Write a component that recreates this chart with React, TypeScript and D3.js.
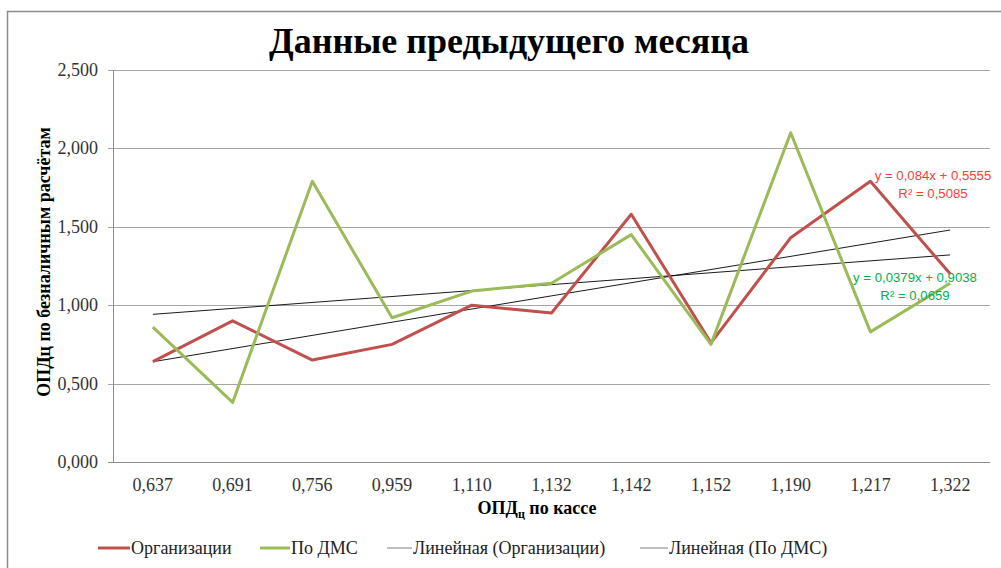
import React, { useEffect, useRef } from 'react';
import * as d3 from 'd3';

const categories = ['0,637', '0,691', '0,756', '0,959', '1,110', '1,132', '1,142', '1,152', '1,190', '1,217', '1,322'];
const orgValues = [0.64, 0.9, 0.65, 0.75, 1.0, 0.95, 1.58, 0.76, 1.43, 1.79, 1.2];
const dmsValues = [0.86, 0.38, 1.79, 0.92, 1.09, 1.14, 1.45, 0.75, 2.1, 0.83, 1.14];
// trend line coefficients as shown on the chart (x = point index 1..11)
const orgTrend = { slope: 0.084, intercept: 0.5555, label: 'y = 0,084x + 0,5555', r2: 'R² = 0,5085' };
const dmsTrend = { slope: 0.0379, intercept: 0.9038, label: 'y = 0,0379x + 0,9038', r2: 'R² = 0,0659' };
const yTicks = [0, 0.5, 1, 1.5, 2, 2.5];

const RED = '#c0504d';
const GREEN = '#9bbb59';
const SERIF = 'Liberation Serif, DejaVu Serif, serif';

function App() {
  const svgRef = useRef<SVGSVGElement>(null);

  useEffect(() => {
    const width = 1001;
    const height = 568;
    const plot = { left: 113, right: 990, top: 70, bottom: 462 };

    const svg = d3.select(svgRef.current).attr('width', width).attr('height', height);
    svg.selectAll('*').remove();

    // chart frame
    svg
      .append('rect')
      .attr('x', 7.5)
      .attr('y', 11.5)
      .attr('width', 1010)
      .attr('height', 600)
      .attr('fill', '#fff')
      .attr('stroke', '#8c8c8c')
      .attr('stroke-width', 1.5);

    const xScale = d3.scaleBand().domain(categories).range([plot.left, plot.right]);
    const xCenter = (i: number) => (xScale(categories[i]) as number) + xScale.bandwidth() / 2;
    const yScale = d3.scaleLinear().domain([0, 2.5]).range([plot.bottom, plot.top]);
    const fmt = (v: number) => d3.format('.3f')(v).replace('.', ',');

    // gridlines
    svg
      .append('g')
      .selectAll('line')
      .data(yTicks.slice(1))
      .join('line')
      .attr('x1', plot.left - 5)
      .attr('x2', plot.right)
      .attr('y1', (d) => Math.round(yScale(d)) + 0.5)
      .attr('y2', (d) => Math.round(yScale(d)) + 0.5)
      .attr('stroke', '#a6a6a6')
      .attr('stroke-width', 1);

    // axes lines
    svg
      .append('line')
      .attr('x1', plot.left - 5)
      .attr('x2', plot.right)
      .attr('y1', Math.round(yScale(0)) + 0.5)
      .attr('y2', Math.round(yScale(0)) + 0.5)
      .attr('stroke', '#8c8c8c');
    svg
      .append('line')
      .attr('x1', plot.left + 0.5)
      .attr('x2', plot.left + 0.5)
      .attr('y1', plot.top)
      .attr('y2', plot.bottom)
      .attr('stroke', '#8c8c8c');

    // y tick labels
    svg
      .append('g')
      .selectAll('text')
      .data(yTicks)
      .join('text')
      .attr('x', 98)
      .attr('y', (d) => yScale(d) + 6)
      .attr('text-anchor', 'end')
      .attr('font-family', SERIF)
      .attr('font-size', 18)
      .attr('fill', '#333')
      .text((d) => fmt(d));

    // x tick labels
    svg
      .append('g')
      .selectAll('text')
      .data(categories)
      .join('text')
      .attr('x', (_d, i) => xCenter(i))
      .attr('y', 491)
      .attr('text-anchor', 'middle')
      .attr('font-family', SERIF)
      .attr('font-size', 18)
      .attr('fill', '#333')
      .text((d) => d);

    // trend lines
    const trendLine = (t: { slope: number; intercept: number }) => {
      const pts = [0, categories.length - 1].map((i) => [xCenter(i), yScale(t.slope * (i + 1) + t.intercept)] as [number, number]);
      svg
        .append('path')
        .attr('d', d3.line()(pts))
        .attr('stroke', '#000')
        .attr('stroke-width', 0.9)
        .attr('fill', 'none');
    };
    trendLine(orgTrend);
    trendLine(dmsTrend);

    // data lines
    const line = d3
      .line<number>()
      .x((_d, i) => xCenter(i))
      .y((d) => yScale(d));
    svg
      .append('path')
      .attr('d', line(orgValues))
      .attr('fill', 'none')
      .attr('stroke', RED)
      .attr('stroke-width', 3)
      .attr('stroke-linejoin', 'round');
    svg
      .append('path')
      .attr('d', line(dmsValues))
      .attr('fill', 'none')
      .attr('stroke', GREEN)
      .attr('stroke-width', 3)
      .attr('stroke-linejoin', 'round');

    // equations
    const eq = (t: typeof orgTrend, cx: number, cy: number, color: string) => {
      const g = svg
        .append('text')
        .attr('text-anchor', 'middle')
        .attr('font-family', 'Liberation Sans, Arial, sans-serif')
        .attr('font-size', 13.2)
        .attr('fill', color);
      g.append('tspan').attr('x', cx).attr('y', cy).text(t.label);
      g.append('tspan').attr('x', cx).attr('y', cy + 18).text(t.r2);
    };
    eq(orgTrend, 933, 180, '#ff3b3b');
    eq(dmsTrend, 915, 282, '#00b050');

    // title
    svg
      .append('text')
      .attr('x', 509)
      .attr('y', 53)
      .attr('text-anchor', 'middle')
      .attr('font-family', SERIF)
      .attr('font-size', 36)
      .attr('font-weight', 'bold')
      .text('Данные предыдущего месяца');

    // axis titles
    const xTitle = svg
      .append('text')
      .attr('x', 537)
      .attr('y', 514)
      .attr('text-anchor', 'middle')
      .attr('font-family', SERIF)
      .attr('font-size', 18)
      .attr('font-weight', 'bold');
    xTitle.append('tspan').text('ОПД');
    xTitle.append('tspan').attr('dy', 4).attr('font-size', 12).text('ц');
    xTitle.append('tspan').attr('dy', -4).text(' по кассе');

    svg
      .append('text')
      .attr('transform', 'translate(50,262) rotate(-90)')
      .attr('text-anchor', 'middle')
      .attr('font-family', SERIF)
      .attr('font-size', 18)
      .attr('font-weight', 'bold')
      .text('ОПДц по безналичным расчётам');

    // legend
    const legendItems = [
      { label: 'Организации', color: RED, width: 3, x: 98, len: 32 },
      { label: 'По ДМС', color: GREEN, width: 3, x: 260, len: 30 },
      { label: 'Линейная (Организации)', color: '#7f7f7f', width: 1, x: 387, len: 25 },
      { label: 'Линейная (По ДМС)', color: '#7f7f7f', width: 1, x: 640, len: 28 },
    ];
    const legend = svg.append('g');
    legendItems.forEach((d) => {
      legend
        .append('line')
        .attr('x1', d.x)
        .attr('x2', d.x + d.len)
        .attr('y1', 548)
        .attr('y2', 548)
        .attr('stroke', d.color)
        .attr('stroke-width', d.width);
      legend
        .append('text')
        .attr('x', d.x + d.len + 1)
        .attr('y', 554)
        .attr('font-family', SERIF)
        .attr('font-size', 18)
        .attr('fill', '#222')
        .text(d.label);
    });
  }, []);

  return <svg ref={svgRef} style={{ position: 'absolute', left: 0, top: 0, display: 'block' }} />;
}

export default App;
